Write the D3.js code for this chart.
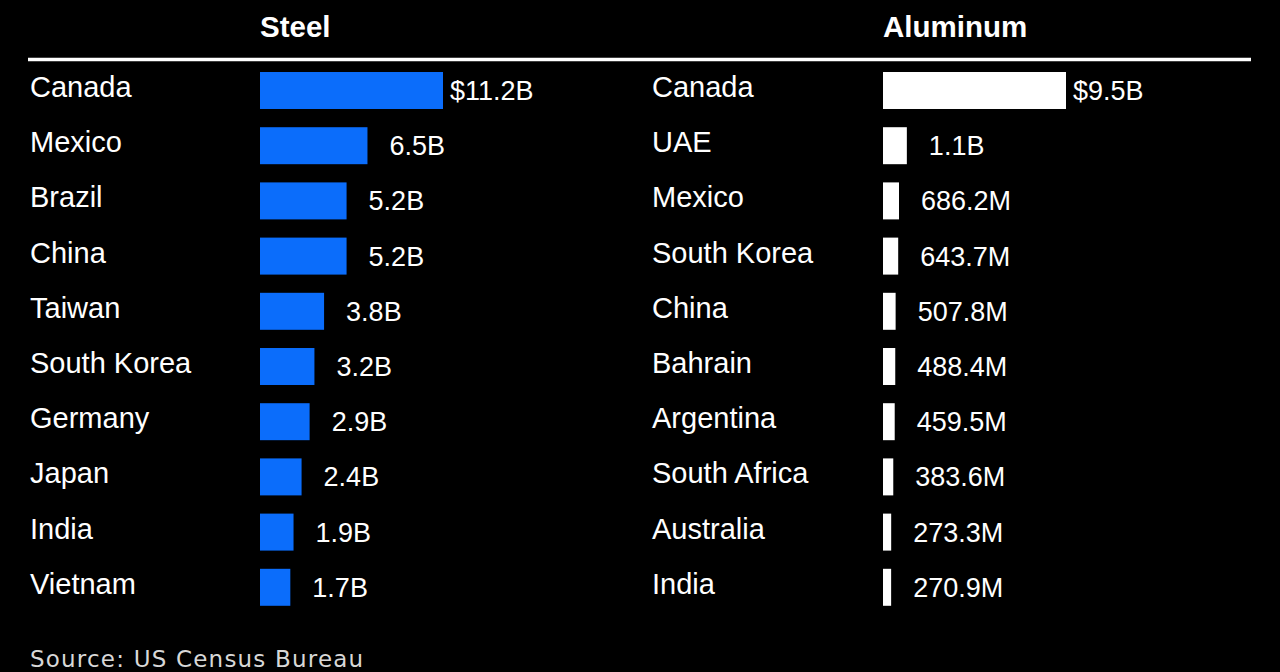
<!DOCTYPE html>
<html>
<head>
<meta charset="utf-8">
<script src="https://cdn.jsdelivr.net/npm/d3@7"></script>
<style>
  html, body { margin: 0; padding: 0; background: #000; }
  svg { display: block; }
</style>
</head>
<body>
<svg id="chart" width="1280" height="672"></svg>
<script>
// ---- Data ----
const steelCountries = ["Canada", "Mexico", "Brazil", "China", "Taiwan", "South Korea", "Germany", "Japan", "India", "Vietnam"];
const steelValues = [11.2, 6.5, 5.2, 5.2, 3.8, 3.2, 2.9, 2.4, 1.9, 1.7]; // $ billions

const aluminumCountries = ["Canada", "UAE", "Mexico", "South Korea", "China", "Bahrain", "Argentina", "South Africa", "Australia", "India"];
const aluminumValues = [9.5, 1.1, 0.6862, 0.6437, 0.5078, 0.4884, 0.4595, 0.3836, 0.2733, 0.2709]; // $ billions

const panelTitles = ["Steel", "Aluminum"];
const sourceText = "Source: US Census Bureau";

// ---- Layout ----
const svg = d3.select("#chart");
svg.append("rect").attr("width", 1280).attr("height", 672).attr("fill", "#000");

const y = d3.scaleBand()
  .domain(d3.range(10))
  .range([62.9, 614.9])
  .paddingInner(0.33)
  .paddingOuter(0.165);

function fmt(v) {
  return v >= 1 ? v.toFixed(1) + "B" : (v * 1000).toFixed(1) + "M";
}

const panels = [
  { title: panelTitles[0], countries: steelCountries, values: steelValues, nameX: 30, barX: 260, color: "#0b6dfb" },
  { title: panelTitles[1], countries: aluminumCountries, values: aluminumValues, nameX: 652, barX: 883, color: "#ffffff" }
];

// header rule
svg.append("line")
  .attr("x1", 28).attr("x2", 1251)
  .attr("y1", 59.5).attr("y2", 59.5)
  .attr("stroke", "#fff").attr("stroke-width", 3.5);

panels.forEach(p => {
  const x = d3.scaleLinear()
    .domain([0, d3.max(p.values)])
    .range([3, 183]);

  const g = svg.append("g");

  g.append("text")
    .attr("x", p.barX).attr("y", 37)
    .attr("fill", "#fff")
    .attr("font-family", "Liberation Sans, Arial, sans-serif")
    .attr("font-weight", "bold")
    .attr("font-size", 29.5)
    .text(p.title);

  const rows = g.selectAll("g.row")
    .data(p.values.map((v, i) => ({ v, i, name: p.countries[i] })))
    .join("g").attr("class", "row");

  rows.append("text")
    .attr("x", p.nameX)
    .attr("y", d => y(d.i) + y.bandwidth() / 2 + 6.5)
    .attr("fill", "#fff")
    .attr("font-family", "Liberation Sans, Arial, sans-serif")
    .attr("font-size", 29)
    .text(d => d.name);

  rows.append("rect")
    .attr("x", p.barX)
    .attr("y", d => y(d.i))
    .attr("width", d => x(d.v))
    .attr("height", y.bandwidth())
    .attr("fill", p.color);

  const lab = rows.append("text")
    .attr("x", d => p.barX + x(d.v) + 7)
    .attr("y", d => y(d.i) + y.bandwidth() / 2 + 9.5)
    .attr("fill", "#fff")
    .attr("font-family", "Liberation Sans, Arial, sans-serif")
    .attr("font-size", 27);
  lab.append("tspan")
    .attr("fill-opacity", d => d.i === 0 ? 1 : 0)
    .text("$");
  lab.append("tspan")
    .text(d => fmt(d.v));
});

svg.append("text")
  .attr("x", 30).attr("y", 667)
  .attr("fill", "#d8d8d8")
  .attr("font-family", "DejaVu Sans, sans-serif")
  .attr("font-size", 23)
  .attr("letter-spacing", 1.2)
  .text(sourceText);
</script>
</body>
</html>
